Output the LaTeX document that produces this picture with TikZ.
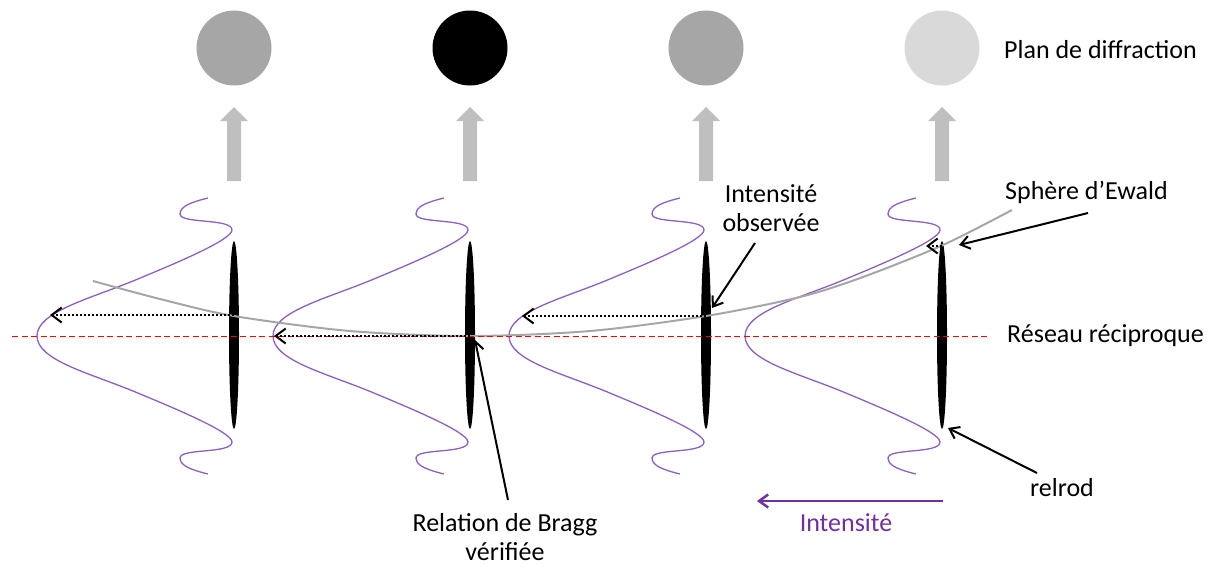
\documentclass[tikz,border=0pt]{standalone}
\usepackage{fontspec}
\setmainfont{Carlito}
\usetikzlibrary{arrows.meta,shapes.geometric}
\definecolor{spotgray}{HTML}{A6A6A6}
\definecolor{spotlight}{HTML}{D9D9D9}
\definecolor{blockgray}{HTML}{BFBFBF}
\definecolor{ewaldgray}{HTML}{A6A6A6}
\definecolor{curvepurple}{RGB}{140,95,195}
\definecolor{labpurple}{HTML}{7030A0}
\tikzset{
  spot/.style={circle, minimum size=75pt, inner sep=0pt, draw=none},
  relrodshape/.style={ellipse, fill=black, minimum width=10pt, minimum height=188pt, inner sep=0pt, draw=none},
  lab/.style={font=\fontsize{26}{29}\selectfont, inner sep=0pt},
  intcurve/.style={draw=curvepurple, line width=1.3pt},
  dotarrow/.style={line width=2.3pt, dash pattern=on 2pt off 2pt, -{Straight Barb[length=10pt,width=15pt,line width=2pt]}},
  callout/.style={line width=2pt, -{Straight Barb[length=9pt,width=13pt,line width=2pt]}},
  reddash/.style={red, line width=1pt, dash pattern=on 6pt off 3.5pt},
  ewald/.style={ewaldgray, line width=2pt},
  blockup/.pic={\fill[blockgray] (-7,0) -- (-7,-60) -- (-14,-60) -- (0,-74) -- (14,-60) -- (7,-60) -- (7,0) -- cycle;},
  wave/.pic={\draw[intcurve] (-26,-138) .. controls (-42,-134) and (-54,-130) .. (-54,-122)
      .. controls (-54,-112) and (-2,-118) .. (-2,-106)
      .. controls (-2,-96) and (-60,-72) .. (-101,-55)
      .. controls (-145,-37) and (-197,-24) .. (-197,0)
      .. controls (-197,24) and (-145,37) .. (-101,55)
      .. controls (-60,72) and (-2,96) .. (-2,106)
      .. controls (-2,118) and (-54,112) .. (-54,122)
      .. controls (-54,130) and (-42,134) .. (-26,138);}
}
\begin{document}
\begin{tikzpicture}[x=1pt,y=-1pt]
\useasboundingbox (0,0) rectangle (1214,566);
% diffraction spots
\node[spot, fill=spotgray] (c1) at (234,48) {};
\node[spot, fill=black] (c2) at (470,48) {};
\node[spot, fill=spotgray] (c3) at (706,48) {};
\node[spot, fill=spotlight] (c4) at (942,48) {};
% block arrows
\pic at (234,181) {blockup};
\pic at (470,181) {blockup};
\pic at (706,181) {blockup};
\pic at (942,181) {blockup};
% intensity curves
\pic at (234,336) {wave};
\pic at (470,336) {wave};
\pic at (706,336) {wave};
\pic at (942,336) {wave};
% relrods
\node[relrodshape] (r1) at (234,335) {};
\node[relrodshape] (r2) at (470,335) {};
\node[relrodshape] (r3) at (706,335) {};
\node[relrodshape] (r4) at (942,335) {};
% Ewald sphere
\draw[ewald] plot[smooth] coordinates {(93,281) (160,299) (234,316) (350,331) (470,336) (590,331) (706,316) (800,297) (863,277) (943,245) (1012,210)};
% reciprocal lattice line
\coordinate (lineL) at (12,336);
\coordinate (lineR) at (990,336);
\draw[reddash] (lineL) -- (lineR);
% dotted intensity arrows
\coordinate (h1) at (234,315); \coordinate (p1) at (50,315);
\coordinate (h2) at (470,336); \coordinate (p2) at (274,336);
\coordinate (h3) at (706,316); \coordinate (p3) at (522,316);
\coordinate (h4) at (942,246); \coordinate (p4) at (926,246);
\draw[dotarrow] (h1) -- (p1);
\draw[dotarrow] (h2) -- (p2);
\draw[dotarrow] (h3) -- (p3);
\draw[dotarrow] (h4) -- (p4);
% labels
\node[lab, anchor=west] (plan) at (1004,50) {Plan de diffraction};
\node[lab, anchor=west] (sphere) at (1005,192) {Sphère d’Ewald};
\node[lab, anchor=west] (reseau) at (1007,336) {Réseau réciproque};
\node[lab, anchor=west] (relrodlab) at (1030,488) {relrod};
\node[lab, align=center] (bragg) at (505,537) {Relation de Bragg\\vérifiée};
\node[lab, align=center] (obs) at (771,208) {Intensité\\observée};
\node[lab, text=labpurple] (intlab) at (846,523) {Intensité};
% callout arrows
\coordinate (sphereS) at (1088,213); \coordinate (ewaldhit) at (959,245);
\draw[callout] (sphereS) -- (ewaldhit);
\coordinate (obsS) at (755,243); \coordinate (obshit) at (712,308);
\draw[callout] (obsS) -- (obshit);
\coordinate (braggN) at (508,500); \coordinate (bragghit) at (475,340);
\draw[callout] (braggN) -- (bragghit);
\coordinate (relrodS) at (1037,473); \coordinate (relrodhit) at (948,428);
\draw[callout] (relrodS) -- (relrodhit);
\coordinate (intR) at (943,501); \coordinate (intL) at (757,501);
\draw[labpurple, line width=2.5pt, -{Straight Barb[length=9pt,width=13pt,line width=2.5pt]}] (intR) -- (intL);
\end{tikzpicture}
\end{document}
